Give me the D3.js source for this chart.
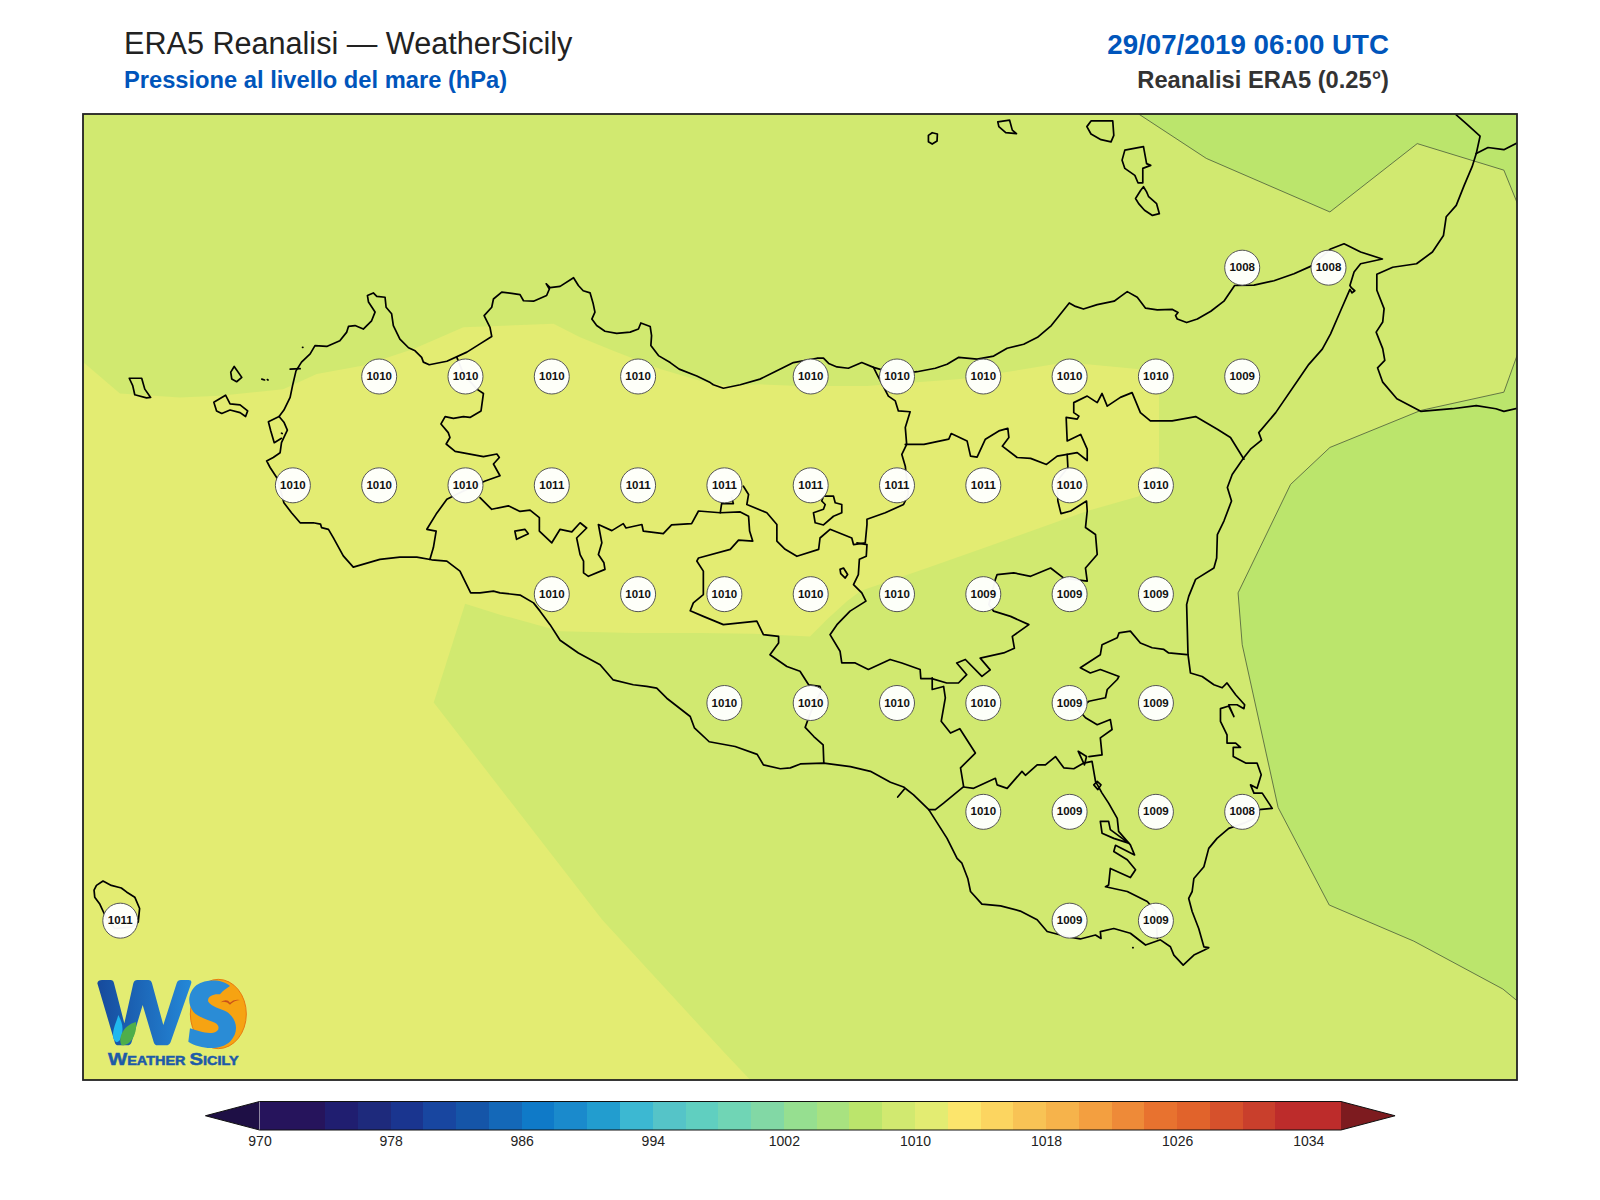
<!DOCTYPE html>
<html>
<head>
<meta charset="utf-8">
<title>ERA5 Reanalisi - WeatherSicily</title>
<script src="https://cdn.jsdelivr.net/npm/d3@7"></script>
<style>
  body { margin: 0; background: #fff; }
  text { font-family: "Liberation Sans", Arial, sans-serif; }
</style>
</head>
<body>
<div id="chart-area"></div>
<script>
// grid points of the pressure labels: lon, lat, hPa
const rows = [
  { lat: 38.25, lon: [15.25, 15.5], hpa: [1008, 1008] },
  { lat: 38.0, lon: [12.75, 13.0, 13.25, 13.5, 14.0, 14.25, 14.5, 14.75, 15.0, 15.25], hpa: [1010, 1010, 1010, 1010, 1010, 1010, 1010, 1010, 1010, 1009] },
  { lat: 37.75, lon: [12.5, 12.75, 13.0, 13.25, 13.5, 13.75, 14.0, 14.25, 14.5, 14.75, 15.0], hpa: [1010, 1010, 1010, 1011, 1011, 1011, 1011, 1011, 1011, 1010, 1010] },
  { lat: 37.5, lon: [13.25, 13.5, 13.75, 14.0, 14.25, 14.5, 14.75, 15.0], hpa: [1010, 1010, 1010, 1010, 1010, 1009, 1009, 1009] },
  { lat: 37.25, lon: [13.75, 14.0, 14.25, 14.5, 14.75, 15.0], hpa: [1010, 1010, 1010, 1010, 1009, 1009] },
  { lat: 37.0, lon: [14.5, 14.75, 15.0, 15.25], hpa: [1010, 1009, 1009, 1008] },
  { lat: 36.75, lon: [12.0, 14.75, 15.0], hpa: [1011, 1009, 1009] }
]

// colour bar
const levels = [970,972,974,976,978,980,982,984,986,988,990,992,994,996,998,1000,1002,1004,1006,1008,1010,1012,1014,1016,1018,1020,1022,1024,1026,1028,1030,1032,1034,1036]
const levelColors = ["#26145c","#26145c","#201e70","#1e2a7c","#1a358f","#1846a0","#1555a8","#1468b8","#0f7ac8","#1a8acc","#229dcf","#3cb8d2","#55c4c8","#60cfc0","#70d5b5","#82d8a5","#96df90","#a8e280","#bbe56c","#d1e970","#e3ec72","#fce56c","#fcd560","#f8c355","#f6b34b","#f39f40","#ee8a38","#e8722f","#e1632b","#d6512c","#c93f2c","#bd2c2b","#bd2c2b"]
const barTicks = [970, 978, 986, 994, 1002, 1010, 1018, 1026, 1034]

// filled pressure areas
const band1010 = [[11.893,38.033],[11.999,37.961],[12.173,37.952],[12.289,37.956],[12.472,37.971],[12.569,38.006],[12.704,38.025],[12.849,38.063],[12.994,38.113],[13.255,38.121],[13.332,38.090],[13.428,38.059],[13.564,38.017],[13.680,37.990],[13.757,37.978],[13.853,37.982],[13.969,37.978],[14.163,37.978],[14.298,37.986],[14.434,37.994],[14.559,38.009],[14.704,38.028],[14.801,38.028],[14.946,38.017],[15.009,38.005],[15.009,37.798],[14.951,37.725],[14.801,37.691],[14.530,37.614],[14.337,37.560],[14.144,37.507],[14.105,37.484],[14.047,37.442],[13.998,37.403],[13.834,37.409],[13.680,37.411],[13.486,37.411],[13.274,37.415],[13.100,37.453],[12.999,37.478],[12.908,37.251],[13.396,36.752],[13.751,36.446],[13.831,36.379],[11.892,36.379]]
const line1008North = [[14.950,38.603],[15.146,38.501],[15.504,38.378],[15.757,38.535],[16.008,38.474],[16.051,38.390]]
const cornerNorth = [[16.051,38.603]]
const line1008East = [[16.051,38.059],[16.008,37.964],[15.767,37.922],[15.504,37.837],[15.390,37.752],[15.238,37.503],[15.250,37.384],[15.354,37.010],[15.502,36.786],[15.747,36.703],[16.005,36.593],[16.051,36.563]]

// Sicily coast, clockwise from Capo Granitola
const coast = [[12.675,37.562],[12.646,37.588],[12.617,37.630],[12.603,37.649],[12.583,37.653],[12.580,37.661],[12.559,37.664],[12.540,37.664],[12.521,37.664],[12.496,37.687],[12.474,37.710],[12.467,37.730],[12.453,37.768],[12.434,37.791],[12.424,37.806],[12.443,37.814],[12.463,37.825],[12.467,37.848],[12.474,37.860],[12.484,37.877],[12.474,37.895],[12.460,37.908],[12.474,37.923],[12.492,37.952],[12.499,37.979],[12.509,38.013],[12.525,38.033],[12.550,38.052],[12.564,38.071],[12.598,38.069],[12.636,38.082],[12.656,38.102],[12.661,38.115],[12.680,38.117],[12.704,38.109],[12.728,38.128],[12.738,38.148],[12.719,38.171],[12.716,38.186],[12.733,38.192],[12.743,38.184],[12.767,38.182],[12.770,38.159],[12.786,38.144],[12.791,38.117],[12.810,38.086],[12.835,38.066],[12.854,38.059],[12.873,38.044],[12.878,38.033],[12.895,38.027],[12.946,38.035],[13.004,38.056],[13.042,38.075],[13.076,38.092],[13.071,38.113],[13.054,38.140],[13.076,38.159],[13.081,38.178],[13.105,38.194],[13.134,38.191],[13.158,38.188],[13.168,38.174],[13.197,38.173],[13.235,38.186],[13.243,38.201],[13.234,38.213],[13.245,38.204],[13.274,38.207],[13.313,38.227],[13.327,38.209],[13.341,38.197],[13.361,38.192],[13.370,38.167],[13.375,38.148],[13.366,38.132],[13.380,38.117],[13.404,38.104],[13.438,38.099],[13.477,38.102],[13.501,38.109],[13.508,38.123],[13.535,38.115],[13.539,38.094],[13.537,38.071],[13.559,38.048],[13.593,38.032],[13.619,38.017],[13.670,38.001],[13.709,37.986],[13.718,37.981],[13.747,37.973],[13.796,37.981],[13.853,37.994],[13.902,38.013],[13.950,38.032],[14.018,38.042],[14.037,38.042],[14.052,38.030],[14.076,38.022],[14.109,38.019],[14.148,38.032],[14.182,38.021],[14.250,38.005],[14.308,38.011],[14.361,38.019],[14.395,38.028],[14.429,38.044],[14.482,38.040],[14.530,38.047],[14.569,38.065],[14.617,38.074],[14.637,38.082],[14.657,38.090],[14.697,38.117],[14.749,38.169],[14.767,38.161],[14.790,38.155],[14.830,38.165],[14.879,38.173],[14.898,38.184],[14.917,38.195],[14.946,38.182],[14.970,38.157],[15.004,38.153],[15.048,38.154],[15.064,38.147],[15.057,38.140],[15.062,38.132],[15.089,38.124],[15.120,38.132],[15.159,38.150],[15.197,38.173],[15.228,38.209],[15.284,38.210],[15.342,38.220],[15.400,38.236],[15.448,38.253],[15.506,38.293],[15.545,38.305],[15.593,38.286],[15.656,38.270],[15.593,38.259],[15.574,38.240],[15.562,38.209],[15.566,38.204],[15.576,38.197],[15.568,38.192],[15.562,38.200],[15.535,38.151],[15.506,38.098],[15.482,38.063],[15.443,38.028],[15.347,37.917],[15.298,37.871],[15.306,37.854],[15.274,37.833],[15.255,37.814],[15.221,37.775],[15.207,37.745],[15.219,37.714],[15.197,37.668],[15.178,37.637],[15.176,37.583],[15.168,37.560],[15.115,37.534],[15.095,37.495],[15.089,37.476],[15.093,37.361],[15.100,37.319],[15.134,37.311],[15.168,37.292],[15.192,37.285],[15.206,37.296],[15.231,37.269],[15.257,37.246],[15.255,37.237],[15.235,37.246],[15.211,37.246],[15.226,37.219],[15.211,37.243],[15.187,37.237],[15.187,37.208],[15.206,37.177],[15.206,37.158],[15.231,37.158],[15.245,37.148],[15.224,37.148],[15.224,37.127],[15.260,37.112],[15.293,37.112],[15.305,37.085],[15.293,37.054],[15.274,37.062],[15.284,37.043],[15.308,37.043],[15.337,37.008],[15.298,37.005],[15.284,36.985],[15.255,36.974],[15.211,36.962],[15.177,36.939],[15.153,36.916],[15.139,36.874],[15.110,36.847],[15.105,36.817],[15.095,36.801],[15.105,36.771],[15.124,36.732],[15.139,36.690],[15.153,36.688],[15.139,36.682],[15.110,36.671],[15.079,36.648],[15.052,36.671],[15.042,36.690],[15.013,36.706],[14.970,36.694],[14.926,36.721],[14.878,36.732],[14.839,36.725],[14.841,36.709],[14.825,36.717],[14.781,36.708],[14.743,36.713],[14.685,36.725],[14.656,36.752],[14.607,36.772],[14.550,36.784],[14.496,36.788],[14.463,36.817],[14.455,36.847],[14.438,36.882],[14.424,36.893],[14.395,36.939],[14.342,37.005],[14.298,37.039],[14.269,37.057],[14.231,37.068],[14.173,37.093],[14.115,37.104],[14.038,37.112],[13.970,37.110],[13.941,37.101],[13.912,37.099],[13.863,37.108],[13.845,37.132],[13.781,37.150],[13.706,37.161],[13.663,37.193],[13.651,37.219],[13.583,37.261],[13.554,37.284],[13.525,37.288],[13.486,37.292],[13.428,37.303],[13.390,37.338],[13.327,37.365],[13.274,37.394],[13.245,37.430],[13.216,37.461],[13.197,37.480],[13.158,37.498],[13.100,37.503],[13.081,37.507],[13.042,37.503],[13.015,37.503],[12.984,37.553],[12.946,37.576],[12.902,37.579],[12.859,37.585],[12.810,37.585],[12.752,37.580]]

const islands = [
  [[12.026,37.996],[12.062,37.996],[12.071,37.971],[12.088,37.952],[12.076,37.951],[12.042,37.958],[12.036,37.979]],
  [[12.330,38.023],[12.352,37.998],[12.337,37.988],[12.323,37.994],[12.320,38.010]],
  [[12.271,37.941],[12.305,37.957],[12.318,37.937],[12.347,37.935],[12.369,37.921],[12.363,37.908],[12.347,37.917],[12.318,37.923],[12.294,37.915],[12.279,37.921]],
  [[14.341,38.554],[14.352,38.560],[14.367,38.557],[14.366,38.541],[14.352,38.534],[14.341,38.539]],
  [[14.542,38.585],[14.576,38.589],[14.584,38.566],[14.596,38.558],[14.565,38.560],[14.545,38.574]],
  [[14.800,38.574],[14.812,38.587],[14.875,38.587],[14.878,38.554],[14.870,38.539],[14.841,38.544],[14.812,38.557]],
  [[14.910,38.520],[14.964,38.528],[14.973,38.489],[14.985,38.485],[14.962,38.478],[14.962,38.445],[14.948,38.445],[14.939,38.462],[14.910,38.478],[14.902,38.497]],
  [[14.956,38.428],[14.964,38.436],[14.973,38.424],[14.979,38.413],[15.002,38.397],[15.010,38.374],[14.990,38.370],[14.967,38.382],[14.950,38.397],[14.941,38.409]],
  [[11.924,36.820],[11.931,36.831],[11.950,36.841],[11.974,36.831],[12.003,36.825],[12.018,36.816],[12.042,36.804],[12.056,36.778],[12.052,36.747],[12.032,36.735],[11.984,36.732],[11.960,36.755],[11.940,36.789],[11.926,36.804]]
]

// lakes and the Madonie enclave
const closedAreas = [
  [[14.085,37.557],[14.095,37.560],[14.107,37.545],[14.100,37.537],[14.087,37.547]],
  [[13.143,37.645],[13.172,37.649],[13.182,37.639],[13.148,37.626],[13.145,37.637]],
  [[14.037,37.725],[14.066,37.725],[14.071,37.710],[14.090,37.706],[14.090,37.687],[14.066,37.679],[14.037,37.659],[14.013,37.664],[14.008,37.687],[14.037,37.695],[14.042,37.706],[14.032,37.714]],
  [[14.839,36.978],[14.863,36.978],[14.868,36.959],[14.921,36.928],[14.878,36.939],[14.844,36.951]],
  [[14.820,37.062],[14.830,37.070],[14.841,37.062],[14.832,37.051]],
  [[14.775,37.139],[14.799,37.127],[14.793,37.108]]
]

// Calabria and the open boundaries inside Sicily
const openLines = [
  [[15.870,38.601],[15.899,38.581],[15.939,38.552],[15.928,38.512],[15.916,38.482],[15.893,38.439],[15.870,38.393],[15.841,38.367],[15.833,38.324],[15.801,38.286],[15.755,38.259],[15.686,38.251],[15.640,38.235],[15.640,38.198],[15.661,38.156],[15.657,38.125],[15.638,38.102],[15.657,38.064],[15.663,38.037],[15.642,38.020],[15.657,37.987],[15.698,37.949],[15.767,37.920],[15.859,37.926],[15.928,37.933],[15.985,37.926],[16.008,37.920],[16.054,37.928]],
  [[15.928,38.512],[15.962,38.526],[16.008,38.521],[16.052,38.539]],
  [[12.975,38.044],[12.994,38.006],[13.033,37.971],[13.052,37.961],[13.045,37.921],[13.013,37.906],[12.994,37.908],[12.965,37.904],[12.941,37.908],[12.929,37.891],[12.950,37.871],[12.955,37.860],[12.944,37.845],[12.970,37.828],[13.052,37.816],[13.091,37.822],[13.098,37.814],[13.081,37.799],[13.100,37.772],[13.057,37.760],[12.994,37.737],[12.946,37.718],[12.915,37.684],[12.888,37.649],[12.915,37.645],[12.907,37.607],[12.897,37.580]],
  [[13.042,37.722],[13.076,37.695],[13.124,37.703],[13.158,37.690],[13.187,37.693],[13.214,37.676],[13.214,37.645],[13.250,37.618],[13.274,37.649],[13.308,37.643],[13.332,37.664],[13.351,37.652],[13.322,37.629],[13.332,37.591],[13.342,37.576],[13.342,37.549],[13.356,37.541],[13.404,37.557],[13.401,37.572],[13.385,37.591],[13.395,37.618],[13.385,37.660],[13.424,37.646],[13.457,37.662],[13.465,37.652],[13.511,37.660],[13.515,37.645],[13.573,37.639],[13.597,37.659],[13.655,37.662],[13.675,37.691],[13.738,37.687],[13.796,37.689],[13.820,37.679],[13.823,37.645],[13.832,37.622],[13.791,37.624],[13.767,37.603],[13.675,37.583],[13.670,37.576],[13.689,37.553],[13.689,37.499],[13.660,37.480],[13.651,37.462],[13.689,37.449],[13.747,37.430],[13.844,37.438],[13.863,37.407],[13.907,37.403],[13.907,37.388],[13.882,37.361],[13.931,37.334],[13.969,37.323],[13.994,37.292],[14.027,37.288],[14.031,37.277],[14.009,37.246],[13.994,37.216],[13.984,37.194],[14.009,37.173],[14.036,37.154],[14.038,37.112]],
  [[13.738,37.687],[13.742,37.708],[13.776,37.708],[13.771,37.722]],
  [[13.805,37.748],[13.820,37.729],[13.815,37.706],[13.873,37.687],[13.902,37.660],[13.902,37.622],[13.926,37.603],[13.960,37.587],[14.023,37.603],[14.027,37.629],[14.056,37.649],[14.119,37.629],[14.124,37.614],[14.158,37.618],[14.163,37.660],[14.163,37.672],[14.216,37.687],[14.269,37.706],[14.283,37.729],[14.274,37.794],[14.264,37.821],[14.278,37.844],[14.274,37.883],[14.288,37.919],[14.254,37.921],[14.245,37.944],[14.225,37.955],[14.192,38.005],[14.182,38.021]],
  [[14.134,37.618],[14.163,37.614],[14.161,37.587],[14.141,37.580],[14.138,37.545],[14.124,37.522],[14.148,37.503],[14.160,37.484],[14.114,37.461],[14.076,37.430],[14.056,37.407],[14.085,37.369],[14.090,37.342],[14.129,37.342],[14.167,37.327],[14.230,37.350],[14.264,37.342],[14.317,37.327],[14.319,37.306],[14.351,37.306],[14.394,37.296],[14.428,37.296],[14.452,37.315],[14.423,37.342],[14.448,37.350],[14.496,37.311],[14.520,37.326],[14.491,37.353],[14.559,37.365],[14.590,37.376],[14.584,37.403],[14.632,37.430],[14.579,37.449],[14.530,37.461],[14.516,37.476],[14.535,37.534],[14.540,37.545],[14.588,37.549],[14.637,37.541],[14.695,37.560],[14.733,37.537],[14.801,37.530],[14.796,37.560],[14.830,37.591],[14.825,37.637],[14.796,37.653],[14.801,37.691],[14.799,37.714],[14.753,37.691],[14.725,37.685],[14.716,37.714],[14.714,37.760],[14.745,37.791],[14.743,37.821]],
  [[14.274,37.844],[14.328,37.844],[14.400,37.856],[14.407,37.869],[14.453,37.852],[14.463,37.817],[14.482,37.815],[14.506,37.856],[14.545,37.875],[14.571,37.881],[14.574,37.860],[14.555,37.840],[14.598,37.814],[14.637,37.812],[14.683,37.798],[14.714,37.817],[14.743,37.821],[14.772,37.825],[14.801,37.807],[14.801,37.833],[14.782,37.867],[14.743,37.852],[14.740,37.906],[14.772,37.902],[14.777,37.909],[14.762,37.917],[14.762,37.940],[14.801,37.955],[14.830,37.940],[14.844,37.961],[14.859,37.932],[14.897,37.952],[14.931,37.963],[14.955,37.917],[14.984,37.898],[15.047,37.898],[15.115,37.908],[15.178,37.879],[15.216,37.860],[15.255,37.810]],
  [[14.352,37.308],[14.352,37.281],[14.385,37.288],[14.390,37.262],[14.378,37.208],[14.405,37.181],[14.432,37.191],[14.477,37.135],[14.434,37.101],[14.443,37.058],[14.385,37.020],[14.361,37.005],[14.342,37.005]],
  [[14.443,37.057],[14.472,37.054],[14.535,37.077],[14.540,37.062],[14.569,37.054],[14.612,37.093],[14.622,37.084],[14.656,37.108],[14.680,37.108],[14.709,37.127],[14.733,37.101],[14.762,37.099],[14.791,37.112],[14.815,37.116],[14.825,37.070],[14.844,37.043],[14.863,37.020],[14.888,36.985],[14.892,36.955],[14.926,36.924],[14.938,36.901],[14.883,36.923],[14.878,36.909],[14.917,36.890],[14.941,36.867],[14.926,36.849],[14.868,36.870],[14.863,36.832],[14.854,36.828],[14.917,36.817],[14.975,36.794],[15.000,36.771],[15.004,36.709]],
  [[14.806,37.127],[14.844,37.131],[14.839,37.170],[14.873,37.189],[14.868,37.212],[14.830,37.200],[14.796,37.216],[14.775,37.235],[14.806,37.254],[14.854,37.262],[14.859,37.281],[14.888,37.304],[14.893,37.311],[14.839,37.327],[14.810,37.319],[14.781,37.331],[14.839,37.361],[14.844,37.384],[14.888,37.400],[14.893,37.411],[14.926,37.415],[14.955,37.388],[14.989,37.377],[15.023,37.373],[15.037,37.365],[15.090,37.361]],
  [[14.271,37.052],[14.252,37.034]],
  [[12.460,37.908],[12.429,37.896],[12.436,37.875],[12.446,37.848],[12.467,37.858]],
  [[12.410,37.994],[12.418,37.992]],
  [[12.426,37.993],[12.428,37.992]],
  [[12.528,38.067],[12.529,38.067]],
  [[12.492,38.017],[12.521,38.018]],
  [[12.467,37.870],[12.469,37.869]],
  [[14.933,36.688],[14.934,36.688]]
]

const W = 1600
const H = 1200
const MAP = { LEFT: 83, RIGHT: 1517, TOP: 114, BOTTOM: 1080 }

const svg = d3.select("#chart-area").append("svg")
  .attr("width", W)
  .attr("height", H)
  .style("display", "block")

const x = d3.scaleLinear().domain([11.892, 16.046]).range([MAP.LEFT, MAP.RIGHT])
const y = d3.scaleLinear().domain([38.603, 36.384]).range([MAP.TOP, MAP.BOTTOM])
const line = d3.line().x(d => x(d[0])).y(d => y(d[1]))
const ring = d3.line().x(d => x(d[0])).y(d => y(d[1])).curve(d3.curveLinearClosed)

svg.append("clipPath").attr("id", "map-clip").append("rect")
  .attr("x", MAP.LEFT).attr("y", MAP.TOP)
  .attr("width", MAP.RIGHT - MAP.LEFT).attr("height", MAP.BOTTOM - MAP.TOP)

const g = svg.append("g").attr("clip-path", "url(#map-clip)")

// pressure bands
g.append("rect")
  .attr("x", MAP.LEFT).attr("y", MAP.TOP)
  .attr("width", MAP.RIGHT - MAP.LEFT).attr("height", MAP.BOTTOM - MAP.TOP)
  .attr("fill", "#d1e970")
g.append("path").attr("d", ring(band1010)).attr("fill", "#e3ec72")
g.append("path").attr("d", ring(line1008North.concat(cornerNorth))).attr("fill", "#bbe56c")
g.append("path").attr("d", ring(line1008East)).attr("fill", "#bbe56c")

// the 1008 isobar is the only one drawn
g.selectAll(".isobar")
  .data([line1008North, line1008East])
  .enter().append("path")
  .attr("class", "isobar")
  .attr("d", line)
  .attr("fill", "none")
  .attr("stroke", "#4a5a3a")
  .attr("stroke-width", 0.8)

// coast and boundaries
const lineStyle = sel => sel
  .attr("fill", "none")
  .attr("stroke", "#000")
  .attr("stroke-width", 1.7)
  .attr("stroke-linejoin", "round")
  .attr("stroke-linecap", "round")

g.append("path").attr("d", ring(coast)).call(lineStyle)
g.selectAll(".island").data(islands.concat(closedAreas)).enter().append("path")
  .attr("class", "island").attr("d", ring).call(lineStyle)
g.selectAll(".boundary").data(openLines).enter().append("path")
  .attr("class", "boundary").attr("d", line).call(lineStyle)

// value labels
const stations = rows.flatMap(r => r.lon.map((lon, i) => ({ lon: lon, lat: r.lat, hpa: r.hpa[i] })))
const station = g.selectAll(".station").data(stations).enter().append("g")
  .attr("class", "station")
  .attr("transform", d => `translate(${x(d.lon)}, ${y(d.lat)})`)
station.append("circle")
  .attr("r", 17.5)
  .attr("fill", "#fff")
  .attr("fill-opacity", 0.96)
  .attr("stroke", "#555")
  .attr("stroke-width", 1)
station.append("text")
  .attr("text-anchor", "middle")
  .attr("y", 3.5)
  .attr("font-size", "11.5px")
  .attr("font-weight", "bold")
  .attr("fill", "#111")
  .text(d => d.hpa)

// logo
const logo = svg.append("g").attr("transform", "translate(80, 960) scale(0.3333)")
const wGrad = logo.append("linearGradient").attr("id", "ws-w").attr("x1", 0).attr("x2", 1).attr("y1", 0).attr("y2", 0)
wGrad.append("stop").attr("offset", 0).attr("stop-color", "#164a9c")
wGrad.append("stop").attr("offset", 1).attr("stop-color", "#2488d8")
logo.append("ellipse").attr("cx", 415).attr("cy", 162).attr("rx", 84).attr("ry", 104)
  .attr("fill", "#f6a312").attr("stroke", "#e8780f").attr("stroke-width", 3)
logo.append("path")
  .attr("d", "M52,70 Q54,60 66,60 L92,60 Q100,60 102,70 L133,190 L160,70 Q163,60 172,60 L205,60 Q213,60 216,70 L250,195 L290,70 Q293,60 303,60 L326,60 Q337,60 333,72 L272,246 Q268,256 258,256 L232,256 Q224,256 221,246 L188,135 L155,246 Q152,256 142,256 L115,256 Q106,256 104,246 Z")
  .attr("fill", "url(#ws-w)")
logo.append("path")
  .attr("d", "M450,78 C430,58 380,55 350,75 C325,95 320,130 340,155 C355,172 385,180 405,188 C420,195 420,215 400,218 C380,222 350,212 330,205 L325,245 C360,268 420,272 450,245 C480,215 470,175 440,155 C420,145 395,140 385,125 C380,110 400,100 420,103 C430,90 440,85 450,78 Z")
  .attr("fill", "#2a8cd6")
logo.append("path").attr("d", "M115,165 C125,185 135,205 120,240 Q108,255 100,235 C96,210 108,190 115,165 Z").attr("fill", "#20b8ee")
logo.append("path").attr("d", "M168,186 C172,225 150,258 125,256 C112,235 130,195 168,186 Z").attr("fill", "#4fae4a")
logo.append("path").attr("d", "M422,127 Q440,114 450,128 Q462,116 480,120 Q460,122 450,134 Q440,122 422,127 Z").attr("fill", "#c8501a")
logo.append("text")
  .attr("x", 84).attr("y", 314)
  .attr("textLength", 392)
  .attr("lengthAdjust", "spacingAndGlyphs")
  .attr("font-weight", "bold")
  .attr("font-size", "46px")
  .attr("fill", "#1d5aa8")
  .attr("stroke", "#1d5aa8")
  .attr("stroke-width", 1.5)
  .selectAll("tspan")
  .data([["W", 52], ["EATHER ", 37], ["S", 52], ["ICILY", 37]])
  .enter().append("tspan")
  .attr("font-size", d => d[1] + "px")
  .text(d => d[0])

// map frame
svg.append("rect")
  .attr("x", MAP.LEFT).attr("y", MAP.TOP)
  .attr("width", MAP.RIGHT - MAP.LEFT).attr("height", MAP.BOTTOM - MAP.TOP)
  .attr("fill", "none")
  .attr("stroke", "#222")
  .attr("stroke-width", 1.8)

// titles
svg.append("text").attr("x", 124).attr("y", 54)
  .attr("font-size", "30.6px").attr("fill", "#222")
  .text("ERA5 Reanalisi — WeatherSicily")
svg.append("text").attr("x", 124).attr("y", 88)
  .attr("font-size", "23.7px").attr("font-weight", "bold").attr("fill", "#0055bb")
  .text("Pressione al livello del mare (hPa)")
svg.append("text").attr("x", 1389).attr("y", 54)
  .attr("text-anchor", "end")
  .attr("font-size", "27.7px").attr("font-weight", "bold").attr("fill", "#0055bb")
  .text("29/07/2019 06:00 UTC")
svg.append("text").attr("x", 1389).attr("y", 88)
  .attr("text-anchor", "end")
  .attr("font-size", "23.7px").attr("font-weight", "bold").attr("fill", "#333")
  .text("Reanalisi ERA5 (0.25°)")

// colour bar
const BAR = { TOP: 1101.5, BOTTOM: 1130 }
const barX = d3.scaleLinear().domain([970, 1036]).range([259.5, 1341])
const barMid = (BAR.TOP + BAR.BOTTOM) / 2
const bar = svg.append("g")

bar.selectAll("rect").data(levelColors).enter().append("rect")
  .attr("x", (d, i) => barX(levels[i]))
  .attr("y", BAR.TOP)
  .attr("width", (d, i) => barX(levels[i + 1]) - barX(levels[i]) + 0.5)
  .attr("height", BAR.BOTTOM - BAR.TOP)
  .attr("fill", d => d)
  .attr("shape-rendering", "crispEdges")
bar.append("path")
  .attr("d", `M${barX(970)},${BAR.TOP} L${barX(966.7)},${barMid} L${barX(970)},${BAR.BOTTOM} Z`)
  .attr("fill", "#1e0f45")
bar.append("path")
  .attr("d", `M${barX(1036)},${BAR.TOP} L${barX(1039.3)},${barMid} L${barX(1036)},${BAR.BOTTOM} Z`)
  .attr("fill", "#7d1b1f")
bar.append("path")
  .attr("d", `M${barX(970)},${BAR.TOP} L${barX(1036)},${BAR.TOP} L${barX(1039.3)},${barMid} L${barX(1036)},${BAR.BOTTOM} L${barX(970)},${BAR.BOTTOM} L${barX(966.7)},${barMid} Z`)
  .attr("fill", "none")
  .attr("stroke", "#111")
  .attr("stroke-width", 1)

const barAxis = d3.axisBottom(barX).tickValues(barTicks).tickSize(0).tickPadding(6).tickFormat(d3.format("d"))
const barAxisG = svg.append("g")
  .attr("transform", `translate(0, ${BAR.BOTTOM})`)
  .call(barAxis)
barAxisG.select(".domain").remove()
barAxisG.selectAll("text")
  .attr("font-size", "14px")
  .attr("font-family", "'Liberation Sans', Arial, sans-serif")
  .attr("fill", "#222")
</script>
</body>
</html>
